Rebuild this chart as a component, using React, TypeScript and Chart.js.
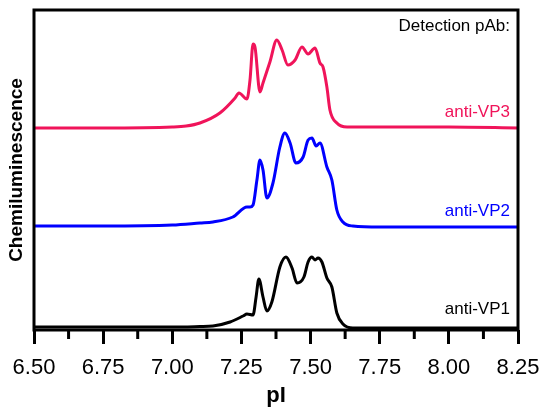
import { useEffect, useRef } from "react";
import { Chart, registerables } from "chart.js";

Chart.register(...registerables);

// pI tick labels
const piTicks = [6.5, 6.75, 7.0, 7.25, 7.5, 7.75, 8.0, 8.25];

// anti-VP3 (red) trace, signal in arbitrary units
const vp3Pi = [6.5, 6.75, 7.0, 7.05, 7.1, 7.172, 7.227, 7.241, 7.27, 7.281, 7.292, 7.299, 7.317, 7.328, 7.353, 7.378, 7.397, 7.418, 7.444, 7.469, 7.491, 7.516, 7.534, 7.545, 7.559, 7.57, 7.595, 7.632, 7.751, 8.0, 8.25];
const vp3Signal = [202, 202, 203, 204, 207, 217, 232, 237, 231, 250, 286, 283, 238, 247, 268, 290, 280, 265, 270, 283, 276, 282, 267, 263, 243, 220, 207, 203, 203, 203, 202];

// anti-VP2 (blue) trace
const vp2Pi = [6.5, 6.75, 7.0, 7.1, 7.147, 7.219, 7.27, 7.281, 7.292, 7.306, 7.317, 7.328, 7.342, 7.364, 7.389, 7.407, 7.426, 7.447, 7.473, 7.491, 7.505, 7.52, 7.534, 7.559, 7.577, 7.595, 7.617, 7.653, 7.751, 8.0, 8.25];
const vp2Signal = [104, 104, 105, 107, 108, 113, 123, 123, 125, 150, 170, 160, 132, 147, 183, 197, 187, 167, 173, 190, 192, 184, 187, 163, 150, 120, 108, 104, 103, 103, 103];

// anti-VP1 (black) trace
const vp1Pi = [6.5, 6.75, 7.0, 7.1, 7.147, 7.209, 7.256, 7.27, 7.292, 7.303, 7.313, 7.328, 7.342, 7.36, 7.389, 7.411, 7.433, 7.451, 7.476, 7.491, 7.505, 7.516, 7.527, 7.541, 7.559, 7.577, 7.595, 7.617, 7.653, 8.0, 8.25];
const vp1Signal = [3, 3, 3, 3.5, 4, 8, 14, 16, 15, 33, 51, 33, 19, 28, 63, 73, 62, 47, 53, 68, 73, 70, 72, 68, 52, 43, 17, 6, 2, 2, 2];

const seriesNames = ["anti-VP3", "anti-VP2", "anti-VP1"];
const seriesColors = ["#f0145a", "#0000ff", "#000000"];
const labelLevels = [218, 119, 21];

const FONT = "'Liberation Sans', Arial, sans-serif";

const toPoints = (xs: number[], ys: number[]) => xs.map((x, i) => ({ x, y: ys[i] }));

const framePlugin = {
  id: "frame",
  afterDraw(chart: any) {
    const { ctx, chartArea, scales } = chart;
    const xs = scales.x;
    const ys = scales.y;
    ctx.save();
    ctx.strokeStyle = "#000";
    ctx.lineWidth = 3;
    ctx.strokeRect(chartArea.left, chartArea.top, chartArea.right - chartArea.left, chartArea.bottom - chartArea.top);

    // minor ticks between the major ones
    for (let i = 0; i < piTicks.length - 1; i++) {
      const px = xs.getPixelForValue((piTicks[i] + piTicks[i + 1]) / 2);
      ctx.beginPath();
      ctx.moveTo(px, chartArea.bottom);
      ctx.lineTo(px, chartArea.bottom + 9);
      ctx.stroke();
    }

    ctx.font = `17px ${FONT}`;
    ctx.textAlign = "right";
    ctx.textBaseline = "middle";
    ctx.fillStyle = "#000";
    ctx.fillText("Detection pAb:", chartArea.right - 8, chartArea.top + 16);
    seriesNames.forEach((name, i) => {
      ctx.fillStyle = seriesColors[i];
      ctx.fillText(name, chartArea.right - 8, ys.getPixelForValue(labelLevels[i]));
    });
    ctx.restore();
  },
};

export default function App() {
  const chartRef = useRef<HTMLCanvasElement>(null);

  useEffect(() => {
    document.body.style.margin = "0";
    if (!chartRef.current) return;
    const traces = [
      toPoints(vp3Pi, vp3Signal),
      toPoints(vp2Pi, vp2Signal),
      toPoints(vp1Pi, vp1Signal),
    ];
    const chartInstance = new Chart(chartRef.current, {
      type: "line",
      data: {
        datasets: traces.map((data, i) => ({
          label: seriesNames[i],
          data,
          borderColor: seriesColors[i],
          borderWidth: 3,
          pointRadius: 0,
          fill: false,
          cubicInterpolationMode: "monotone" as const,
        })),
      },
      options: {
        responsive: false,
        animation: false,
        layout: { padding: { top: 10, right: 32, left: 0, bottom: 0 } },
        plugins: { legend: { display: false }, tooltip: { enabled: false } },
        scales: {
          x: {
            type: "linear",
            min: 6.5,
            max: 8.25,
            afterFit: (scale: any) => {
              scale.height = 88;
            },
            afterBuildTicks: (scale: any) => {
              scale.ticks = piTicks.map((value) => ({ value }));
            },
            ticks: {
              color: "#000",
              font: { family: FONT, size: 22, lineHeight: 1.8 },
              padding: 4,
              maxRotation: 0,
              callback: (v: any) => Number(v).toFixed(2),
            },
            grid: {
              drawOnChartArea: false,
              tickLength: 14,
              tickColor: "#000",
              tickWidth: 3,
            },
            border: { display: false },
            title: {
              display: true,
              text: "pI",
              color: "#000",
              font: { family: FONT, size: 22, weight: "bold" },
              padding: { top: 0, bottom: 9 },
            },
          },
          y: {
            min: 0,
            max: 320,
            afterFit: (scale: any) => {
              scale.width = 34;
            },
            ticks: { display: false },
            grid: { display: false },
            border: { display: false },
            title: {
              display: true,
              text: "Chemiluminescence",
              color: "#000",
              font: { family: FONT, size: 19, weight: "bold" },
              padding: { top: 5, bottom: 0 },
            },
          },
        },
      },
      plugins: [framePlugin],
    });

    return () => {
      chartInstance.destroy();
    };
  }, []);

  return (
    <div style={{ width: 550, height: 418 }}>
      <canvas ref={chartRef} width={550} height={418} />
    </div>
  );
}
